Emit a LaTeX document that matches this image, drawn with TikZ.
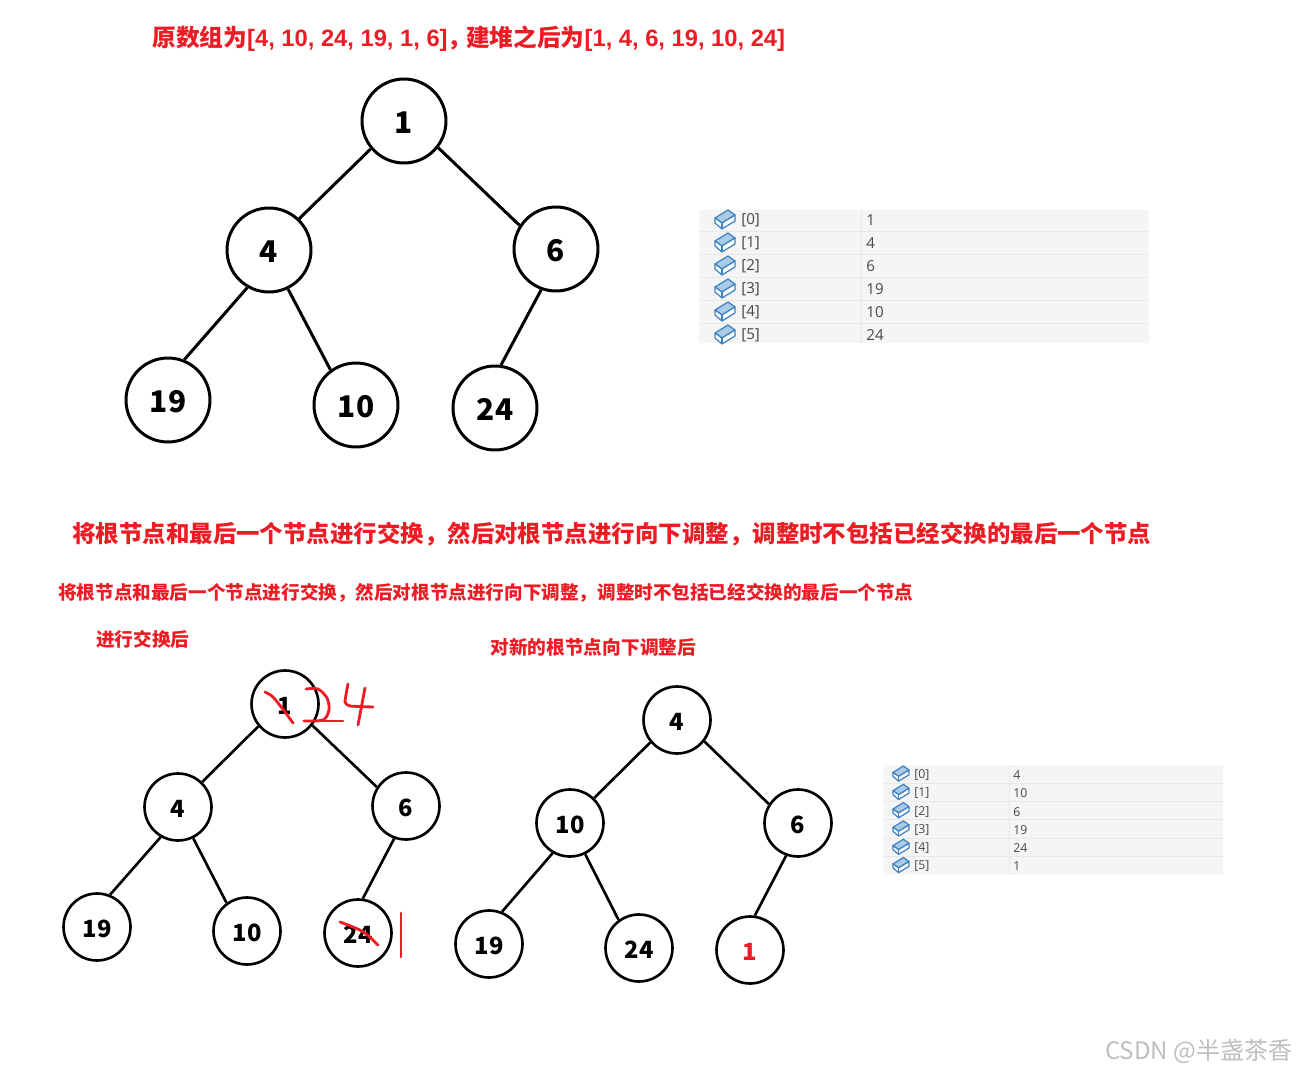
\documentclass[tikz,border=0pt]{standalone}
\usepackage{fontspec}
\setmainfont{Noto Sans CJK SC}
\newfontfamily\tablefont{Open Sans}
\newfontfamily\latinfont{Liberation Sans}
\definecolor{HeapRed}{RGB}{237, 28, 36}
\definecolor{TableBg}{RGB}{245, 245, 245}
\definecolor{TableLine}{RGB}{232, 232, 232}
\definecolor{IconBlue}{RGB}{60, 130, 195}
\definecolor{IconFill}{RGB}{170, 202, 230}
\usetikzlibrary{arrows.meta, positioning, shapes, calc}

\begin{document}
\begin{tikzpicture}[x=0.02cm, y=-0.02cm,
  big/.style={draw=black, circle, line width=1.7pt, minimum size=1.68cm, inner sep=0pt, text height=14.5pt, text depth=0pt, font=\fontsize{17}{17}\bfseries\selectfont},
  small/.style={draw=black, circle, line width=1.5pt, minimum size=1.34cm, inner sep=0pt, text height=12pt, text depth=0pt, font=\fontsize{13.5}{14}\bfseries\selectfont},
  bigedge/.style={black, line width=1.7pt},
  smalledge/.style={black, line width=1.5pt},
  title/.style={anchor=west, inner sep=0pt, text=HeapRed, font=\bfseries},
  rowbig/.style={anchor=west, inner sep=0pt, text=black!72, font=\tablefont\fontsize{8.6}{10}\selectfont},
  rowsmall/.style={anchor=west, inner sep=0pt, text=black!72, font=\tablefont\fontsize{7}{8}\selectfont},
  ink/.style={HeapRed, line width=1.6pt, line cap=round, line join=round},
  brick/.pic={
    \draw[IconBlue, fill=IconFill, line width=0.7pt, line join=round] (-10,-2) -- (3,-10) -- (10,-5) -- (-3,3) -- cycle;
    \draw[IconBlue, fill=white, line width=0.7pt, line join=round] (-10,-2) -- (-10,3) -- (-3,9) -- (10,1) -- (10,-5) -- (-3,3) -- cycle;
    \draw[IconBlue, line width=0.7pt] (-3,3) -- (-3,9);
  }]
\useasboundingbox (0,0) rectangle (1296,1072);

% titles
\node[title, font=\bfseries\fontsize{13.5}{15}\selectfont] (t0) at (152,39) {原数组为{\latinfont [4, 10, 24, 19, 1, 6]}，{\hspace{-3pt}}建堆之后为{\latinfont [1, 4, 6, 19, 10, 24]}};
\node[title, font=\bfseries\fontsize{13.35}{15}\selectfont] (t1) at (72,534) {将根节点和最后一个节点进行交换，然后对根节点进行向下调整，调整时不包括已经交换的最后一个节点};
\node[title, font=\bfseries\fontsize{10.58}{12}\selectfont] (t2) at (58,593) {将根节点和最后一个节点进行交换，然后对根节点进行向下调整，调整时不包括已经交换的最后一个节点};
\node[title, font=\bfseries\fontsize{10.6}{12}\selectfont] (t3) at (96,639) {进行交换后};
\node[title, font=\bfseries\fontsize{10.65}{12}\selectfont] (t4) at (490,647) {对新的根节点向下调整后};

% first heap
\node[big] (a0) at (404,121) {1};
\node[big] (a1) at (269,250) {4};
\node[big] (a2) at (556,249) {6};
\node[big] (a3) at (168,400) {19};
\node[big] (a4) at (356,405) {10};
\node[big] (a5) at (495,408) {24};

% after the swap
\node[small] (b0) at (285,704) {1};
\node[small] (b1) at (178,807) {4};
\node[small] (b2) at (406,806) {6};
\node[small] (b3) at (97,927) {19};
\node[small] (b4) at (247,931) {10};
\node[small] (b5) at (358,933) {24};

% handwriting
\draw[ink] plot[smooth] coordinates {(265,692) (273,697) (285,712) (293,723)};
\draw[ink] plot[smooth, tension=0.5] coordinates {(306,689) (318,689) (327,698) (329,710) (323,720) (304,721)};
\draw[ink] (304,721) -- (343,721);
\draw[ink] plot[smooth, tension=0.3] coordinates {(348,684) (345,702) (350,706) (373,707)};
\draw[ink] (365,688) -- (358,725);
\draw[ink] plot[smooth] coordinates {(340,922) (353,927) (365,933) (378,945)};
\draw[ink] (401,913) -- (401,957);

% after sifting down
\node[small] (c0) at (677,720) {4};
\node[small] (c1) at (570,823) {10};
\node[small] (c2) at (798,823) {6};
\node[small] (c3) at (489,944) {19};
\node[small] (c4) at (639,948) {24};
\node[small, text=HeapRed] (c5) at (750,950) {1};

\foreach \h/\e in {a/bigedge, b/smalledge, c/smalledge} {
  \draw[\e] (\h0.220) -- (\h1.46); \draw[\e] (\h0.-38) -- (\h2.147); \draw[\e] (\h1.240) -- (\h3.68); \draw[\e] (\h1.-64) -- (\h4.126); \draw[\e] (\h2.-110) -- (\h5.82);
}

% watch tables
\fill[TableBg] (699,210) rectangle (1149,343);
\draw[TableLine] (861,210) -- (861,343);
\foreach \i in {0,...,4} {\draw[TableLine] (699,{231+\i*23}) -- (1149,{231+\i*23});}
\foreach \i/\v in {0/1, 1/4, 2/6, 3/19, 4/10, 5/24} {
  \pic at (725,{220+\i*23}) {brick};
  \node[rowbig] (p\i) at (741,{220.5+\i*23}) {[\i]};
  \node[rowbig] (q\i) at (866,{220.5+\i*23}) {\v};
}
\fill[TableBg] (883,765) rectangle (1223,875);
\draw[TableLine] (1009,765) -- (1009,875);
\foreach \i in {0,...,4} {\draw[TableLine] (883,{783+\i*18.3}) -- (1223,{783+\i*18.3});}
\foreach \i/\v in {0/4, 1/10, 2/6, 3/19, 4/24, 5/1} {
  \pic[scale=0.8] at (901,{774+\i*18.3}) {brick};
  \node[rowsmall] (r\i) at (914,{775+\i*18.3}) {[\i]};
  \node[rowsmall] (s\i) at (1013,{775+\i*18.3}) {\v};
}

\node[anchor=east, inner sep=0pt, text=black!25, font=\fontsize{13.7}{15}\selectfont] (mark) at (1293,1051) {CSDN @半盏茶香};
\end{tikzpicture}
\end{document}
